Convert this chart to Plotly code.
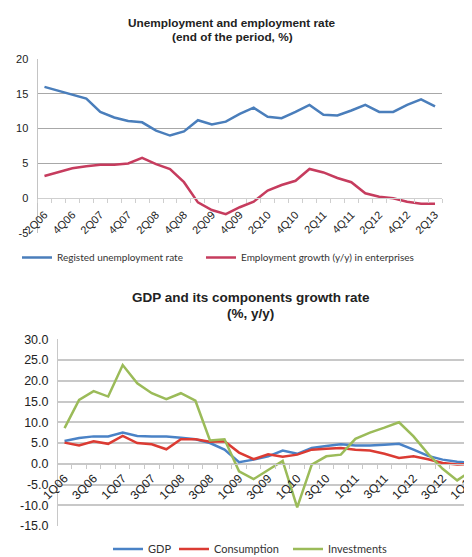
import plotly.graph_objects as go

# ---------------- data: chart 1 ----------------
quarters1 = ["2Q06", "3Q06", "4Q06", "1Q07", "2Q07", "3Q07", "4Q07", "1Q08", "2Q08",
             "3Q08", "4Q08", "1Q09", "2Q09", "3Q09", "4Q09", "1Q10", "2Q10", "3Q10",
             "4Q10", "1Q11", "2Q11", "3Q11", "4Q11", "1Q12", "2Q12", "3Q12", "4Q12",
             "1Q13", "2Q13"]
unemployment = [16.0, 15.4, 14.9, 14.3, 12.4, 11.6, 11.1, 10.9, 9.7, 9.0, 9.6, 11.2,
                10.6, 11.0, 12.1, 13.0, 11.7, 11.5, 12.4, 13.4, 12.0, 11.9, 12.6, 13.4,
                12.4, 12.4, 13.4, 14.2, 13.2]
employment_growth = [3.2, 3.7, 4.3, 4.6, 4.8, 4.8, 5.0, 5.8, 4.9, 4.2, 2.3, -0.6, -1.7,
                     -2.3, -1.3, -0.5, 1.1, 1.9, 2.5, 4.2, 3.7, 2.9, 2.3, 0.7, 0.2, 0.0,
                     -0.5, -0.8, -0.8]
y1_ticks = [-5, 0, 5, 10, 15, 20]
y1_labels = ["-5", "0", "5", "10", "15", "20"]

# ---------------- data: chart 2 ----------------
quarters2 = ["1Q06", "2Q06", "3Q06", "4Q06", "1Q07", "2Q07", "3Q07", "4Q07", "1Q08",
             "2Q08", "3Q08", "4Q08", "1Q09", "2Q09", "3Q09", "4Q09", "1Q10", "2Q10",
             "3Q10", "4Q10", "1Q11", "2Q11", "3Q11", "4Q11", "1Q12", "2Q12", "3Q12",
             "4Q12", "1Q13"]
gdp = [5.5, 6.2, 6.6, 6.6, 7.5, 6.7, 6.6, 6.6, 6.3, 5.9, 5.0, 3.4, 0.4, 1.0, 1.8, 3.2,
       2.4, 3.8, 4.3, 4.7, 4.4, 4.4, 4.6, 4.8, 3.4, 1.9, 1.0, 0.5, 0.2]
consumption = [5.1, 4.4, 5.4, 4.8, 6.7, 5.0, 4.7, 3.5, 5.9, 5.9, 5.3, 5.4, 2.7, 1.1,
               2.3, 1.7, 2.2, 3.4, 3.6, 3.8, 3.4, 3.2, 2.4, 1.4, 1.8, 1.1, 0.2, -0.2, 0.0]
investments = [8.6, 15.4, 17.5, 16.2, 23.8, 19.4, 17.0, 15.6, 17.0, 15.2, 5.6, 5.9, -1.8,
               -3.7, -1.5, 0.7, -10.5, -0.2, 1.8, 2.2, 6.0, 7.5, 8.7, 10.0, 6.6, 2.4,
               -1.2, -4.0, -1.6]
y2_ticks = [-15, -10, -5, 0, 5, 10, 15, 20, 25, 30]
y2_labels = ["-15.0", "-10.0", "-5.0", "0.0", "5.0", "10.0", "15.0", "20.0", "25.0", "30.0"]

# ---------------- layout helpers ----------------
# the page body has an 8px default margin, so the figure is sized to fit the window
OFF = 8
WIN_W, WIN_H = 472, 557
W, H = WIN_W - OFF, WIN_H - OFF


def fx(p):
    return (p - OFF) / W


def fy(p):
    return (WIN_H - p) / H


FONT = "Liberation Sans, Arial, sans-serif"
LEGFONT = "Lato, Open Sans, sans-serif"

idx1 = list(range(len(quarters1)))
idx2 = list(range(len(quarters2)))

fig = go.Figure()
fig.add_trace(go.Scatter(x=idx1, y=unemployment, name="Registed unemployment rate",
                         mode="lines", line=dict(color="#4A7EBB", width=2.5),
                         xaxis="x", yaxis="y", legend="legend", showlegend=True))
fig.add_trace(go.Scatter(x=idx1, y=employment_growth,
                         name="Employment growth (y/y) in enterprises",
                         mode="lines", line=dict(color="#C63C5E", width=2.5),
                         xaxis="x", yaxis="y", legend="legend2", showlegend=True))
fig.add_trace(go.Scatter(x=idx2, y=gdp, name="GDP", mode="lines",
                         line=dict(color="#4A82C6", width=2.5),
                         xaxis="x2", yaxis="y2", legend="legend3", showlegend=True))
fig.add_trace(go.Scatter(x=idx2, y=consumption, name="Consumption", mode="lines",
                         line=dict(color="#DB3B33", width=2.5),
                         xaxis="x2", yaxis="y2", legend="legend4", showlegend=True))
fig.add_trace(go.Scatter(x=idx2, y=investments, name="Investments", mode="lines",
                         line=dict(color="#9BBB59", width=2.5),
                         xaxis="x2", yaxis="y2", legend="legend5", showlegend=True))

# chart 1 geometry
y1_dom = [fy(233), fy(59)]
y1_rng = [-5, 20]
y1_zero = y1_dom[0] + (0 - y1_rng[0]) / (y1_rng[1] - y1_rng[0]) * (y1_dom[1] - y1_dom[0])
# chart 2 geometry
y2_dom = [fy(526), fy(339.3)]
y2_rng = [-15, 30]
y2_zero = y2_dom[0] + (0 - y2_rng[0]) / (y2_rng[1] - y2_rng[0]) * (y2_dom[1] - y2_dom[0])

fig.update_layout(
    width=W, height=H, showlegend=True,
    margin=dict(l=0, r=0, t=0, b=0, autoexpand=False),
    paper_bgcolor="white", plot_bgcolor="white",
    font=dict(family=FONT, color="#222222"),
    xaxis=dict(domain=[fx(37.5), fx(442)], range=[-0.5, len(quarters1) - 0.5],
               anchor="free", position=y1_zero,
               tickmode="array", tickvals=idx1[::2], ticktext=quarters1[::2],
               tickangle=-45, ticks="", ticklen=0, showgrid=False, zeroline=False,
               showline=True, linecolor="#cfcfcf", linewidth=1,
               minor=dict(ticks="outside", tick0=0.5, dtick=1, ticklen=4,
                          tickcolor="#cfcfcf", showgrid=False),
               tickfont=dict(size=11, family=FONT, color="#222222"),
               ticklabelstandoff=5, ticklabeloverflow="allow"),
    yaxis=dict(domain=y1_dom, range=y1_rng, anchor="x",
               tickmode="array", tickvals=y1_ticks, ticktext=y1_labels,
               showgrid=True, gridcolor="#a8a8a8", gridwidth=1, zeroline=False,
               showline=True, linecolor="#c4c4c4", ticks="", ticklen=0,
               tickfont=dict(size=11, family=FONT, color="#222222"),
               ticklabelstandoff=6),
    xaxis2=dict(domain=[fx(58), 1.0], range=[-0.45, 28.02],
                anchor="free", position=y2_zero,
                tickmode="array", tickvals=idx2[::2], ticktext=quarters2[::2],
                tickangle=-45, ticks="", ticklen=0, showgrid=False, zeroline=False,
                showline=True, linecolor="#c8c8c8", linewidth=1,
                minor=dict(ticks="outside", tick0=0.5, dtick=1, ticklen=4,
                           tickcolor="#c8c8c8", showgrid=False),
                tickfont=dict(size=12, family=FONT, color="#222222"),
                ticklabelstandoff=2, ticklabeloverflow="allow"),
    yaxis2=dict(domain=y2_dom, range=y2_rng, anchor="x2",
                tickmode="array", tickvals=y2_ticks, ticktext=y2_labels,
                showgrid=True, gridcolor="#c8c8c8", gridwidth=1.5, zeroline=False,
                showline=True, linecolor="#c8c8c8", ticks="", ticklen=0,
                tickfont=dict(size=12.5, family=FONT, color="#222222"),
                ticklabelstandoff=6),
    annotations=[
        dict(text="<b>Unemployment and employment rate</b>",
             x=fx(232), y=fy(23.5), xref="paper", yref="paper", showarrow=False,
             xanchor="center", yanchor="middle",
             font=dict(size=11.8, family=FONT, color="#222222")),
        dict(text="<b>(end of the period, %)</b>",
             x=fx(232), y=fy(37.5), xref="paper", yref="paper", showarrow=False,
             xanchor="center", yanchor="middle",
             font=dict(size=11.8, family=FONT, color="#222222")),
        dict(text="<b>GDP and its components growth rate</b>",
             x=fx(250.5), y=fy(297.5), xref="paper", yref="paper", showarrow=False,
             xanchor="center", yanchor="middle",
             font=dict(size=13.5, family=FONT, color="#222222")),
        dict(text="<b>(%, y/y)</b>",
             x=fx(250.5), y=fy(313.5), xref="paper", yref="paper", showarrow=False,
             xanchor="center", yanchor="middle",
             font=dict(size=13.5, family=FONT, color="#222222")),
    ],
)

leg_common = dict(orientation="h", xanchor="left", yanchor="middle",
                  bgcolor="rgba(0,0,0,0)", borderwidth=0, itemwidth=30, visible=True,
                  font=dict(size=10, family=LEGFONT, color="#333333"))
leg2_font = dict(size=11, family=LEGFONT, color="#333333")
fig.update_layout(
    legend=dict(x=fx(17), y=fy(257.5), **leg_common),
    legend2=dict(x=fx(201), y=fy(257.5), **leg_common),
    legend3=dict(x=fx(108), y=fy(549), **{**leg_common, "font": leg2_font}),
    legend4=dict(x=fx(174), y=fy(549), **{**leg_common, "font": leg2_font}),
    legend5=dict(x=fx(288), y=fy(549), **{**leg_common, "font": leg2_font}),
)

fig.write_html("out.html")
